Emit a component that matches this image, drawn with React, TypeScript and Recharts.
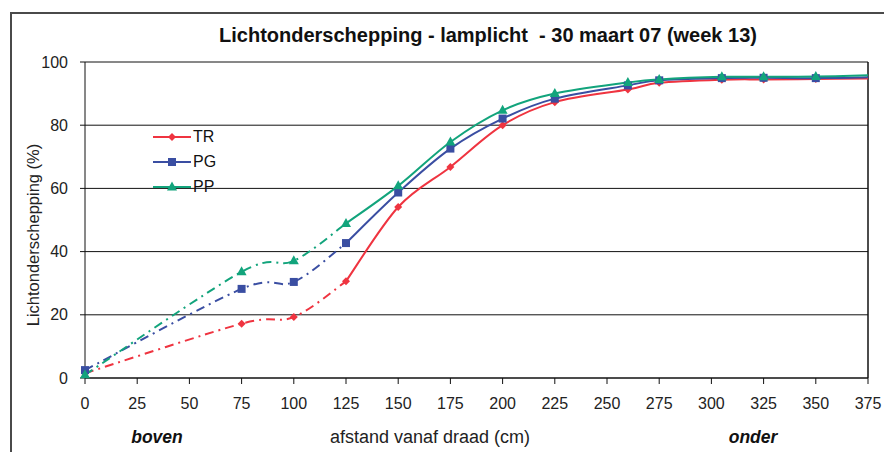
import { LineChart, Line, XAxis, YAxis, CartesianGrid, ReferenceLine } from 'recharts'

// afstand vanaf draad (cm)
const distances = [0, 75, 100, 125, 150, 175, 200, 225, 260, 275, 305, 325, 350, 375]
// lichtonderschepping (%)
const trValues = [1.5, 17.2, 19.3, 30.6, 54.1, 66.8, 80.0, 87.3, 91.3, 93.4, 94.4, 94.5, 94.6, 94.8]
const pgValues = [2.5, 28.2, 30.4, 42.7, 58.7, 72.6, 82.1, 88.4, 92.6, 94.2, 94.9, 95.0, 94.9, 95.2]
const ppValues = [1.0, 33.6, 37.1, 48.9, 60.8, 74.7, 84.7, 90.0, 93.5, 94.5, 95.3, 95.3, 95.4, 95.8]

const xTicks = [0, 25, 50, 75, 100, 125, 150, 175, 200, 225, 250, 275, 300, 325, 350, 375]
const yTicks = [0, 20, 40, 60, 80, 100]

// boven dit punt stippel-streep lijn, daaronder doorgetrokken
const SPLIT = 125

const SERIES = [
  { key: 'TR', values: trValues, color: '#ef3440', shape: 'diamond' },
  { key: 'PG', values: pgValues, color: '#3a4ea2', shape: 'square' },
  { key: 'PP', values: ppValues, color: '#12a47c', shape: 'triangle' },
]

const FONT = '"Liberation Sans", Arial, sans-serif'

const data = distances.map((x, i) => {
  const row: Record<string, number | null> = { x }
  SERIES.forEach((s) => {
    row[s.key + '_a'] = x <= SPLIT ? s.values[i] : null
    row[s.key + '_b'] = x >= SPLIT ? s.values[i] : null
  })
  return row
})

// Excel-achtige gladde lijn (Catmull-Rom als bezier)
function smoothCurve(context: any) {
  let pts: [number, number][] = []
  return {
    areaStart() {},
    areaEnd() {},
    lineStart() {
      pts = []
    },
    point(x: number, y: number) {
      pts.push([+x, +y])
    },
    lineEnd() {
      if (!pts.length) return
      context.moveTo(pts[0][0], pts[0][1])
      for (let i = 0; i < pts.length - 1; i++) {
        const p0 = pts[i - 1] ?? pts[i]
        const p1 = pts[i]
        const p2 = pts[i + 1]
        const p3 = pts[i + 2] ?? pts[i + 1]
        context.bezierCurveTo(
          p1[0] + (p2[0] - p0[0]) / 6,
          p1[1] + (p2[1] - p0[1]) / 6,
          p2[0] - (p3[0] - p1[0]) / 6,
          p2[1] - (p3[1] - p1[1]) / 6,
          p2[0],
          p2[1]
        )
      }
    },
  }
}

function marker(shape: string, color: string, cx: number, cy: number, key?: string) {
  if (shape === 'diamond') {
    return (
      <polygon
        key={key}
        points={`${cx},${cy - 4} ${cx + 4},${cy} ${cx},${cy + 4} ${cx - 4},${cy}`}
        fill={color}
      />
    )
  }
  if (shape === 'square') {
    return <rect key={key} x={cx - 4} y={cy - 4} width={8} height={8} fill={color} />
  }
  return (
    <polygon
      key={key}
      points={`${cx},${cy - 5.5} ${cx + 5},${cy + 3.5} ${cx - 5},${cy + 3.5}`}
      fill={color}
    />
  )
}

function makeDot(shape: string, color: string, part: 'a' | 'b') {
  return (props: any) => {
    const { cx, cy, payload, index } = props
    const k = `${shape}-${part}-${index}`
    if (cx == null || cy == null || payload == null) return <g key={k} />
    const x = payload.x
    const show = part === 'a' ? x < SPLIT : x >= SPLIT && x < 375
    if (!show) return <g key={k} />
    return marker(shape, color, cx, cy, k)
  }
}

function ChartLegend() {
  return (
    <div style={{ position: 'absolute', left: 153, top: 124, fontSize: 16, color: '#111' }}>
      {SERIES.map((s) => (
        <div key={s.key} style={{ display: 'flex', alignItems: 'center', height: 25 }}>
          <svg width={40} height={12}>
            <line x1={0} y1={6} x2={38} y2={6} stroke={s.color} strokeWidth={2} />
            {marker(s.shape, s.color, 19, 6)}
          </svg>
          <span>{s.key}</span>
        </div>
      ))}
    </div>
  )
}

export default function App() {
  return (
    <div
      style={{
        position: 'absolute',
        left: 0,
        top: 0,
        width: 884,
        height: 452,
        overflow: 'hidden',
        background: '#fff',
        fontFamily: FONT,
      }}
    >
      <div
        style={{
          position: 'absolute',
          left: 10,
          top: 12,
          width: 900,
          height: 500,
          border: '2px solid #4a4a4a',
        }}
      />
      <div
        style={{
          position: 'absolute',
          left: 0,
          width: 976,
          top: 24,
          textAlign: 'center',
          fontSize: 20,
          fontWeight: 'bold',
          color: '#111',
          whiteSpace: 'pre',
        }}
      >
        {'Lichtonderschepping - lamplicht  - 30 maart 07 (week 13)'}
      </div>

      <div style={{ position: 'absolute', left: 0, top: 0 }}>
        <LineChart width={884} height={452} data={data} margin={{ top: 62, right: 16, bottom: 0, left: 0 }}>
          <CartesianGrid vertical={false} stroke="#111" strokeWidth={1} />
          <XAxis
            type="number"
            dataKey="x"
            domain={[0, 375]}
            ticks={xTicks}
            interval={0}
            height={74}
            tickSize={6}
            tickMargin={14}
            stroke="#111"
            tick={{ fontSize: 16, fill: '#222', fontFamily: FONT }}
          />
          <YAxis
            type="number"
            domain={[0, 100]}
            ticks={yTicks}
            interval={0}
            width={85}
            tickSize={5}
            tickMargin={12}
            stroke="#111"
            tick={{ fontSize: 16, fill: '#222', fontFamily: FONT }}
          />
          <ReferenceLine x={375} stroke="#111" strokeWidth={1.5} />
          {SERIES.map((s) => [
            <Line
              key={s.key + '_a'}
              type={smoothCurve as any}
              dataKey={s.key + '_a'}
              stroke={s.color}
              strokeWidth={2}
              strokeDasharray="9 5 2 5"
              dot={makeDot(s.shape, s.color, 'a')}
              activeDot={false}
              connectNulls={false}
              isAnimationActive={false}
            />,
            <Line
              key={s.key + '_b'}
              type={smoothCurve as any}
              dataKey={s.key + '_b'}
              stroke={s.color}
              strokeWidth={2}
              dot={makeDot(s.shape, s.color, 'b')}
              activeDot={false}
              connectNulls={false}
              isAnimationActive={false}
            />,
          ])}
        </LineChart>
      </div>
      <ChartLegend />

      <div
        style={{
          position: 'absolute',
          left: 33,
          top: 235,
          transform: 'translate(-50%, -50%) rotate(-90deg)',
          whiteSpace: 'nowrap',
          fontSize: 16.5,
          color: '#222',
        }}
      >
        Lichtonderschepping (%)
      </div>
      <div style={{ position: 'absolute', left: 157, top: 437, transform: 'translate(-50%, -50%)', fontSize: 17.5, fontWeight: 'bold', fontStyle: 'italic', color: '#111' }}>
        boven
      </div>
      <div style={{ position: 'absolute', left: 430, top: 437, transform: 'translate(-50%, -50%)', fontSize: 18, color: '#222', whiteSpace: 'nowrap' }}>
        afstand vanaf draad (cm)
      </div>
      <div style={{ position: 'absolute', left: 753, top: 437, transform: 'translate(-50%, -50%)', fontSize: 17.5, fontWeight: 'bold', fontStyle: 'italic', color: '#111' }}>
        onder
      </div>
    </div>
  )
}
